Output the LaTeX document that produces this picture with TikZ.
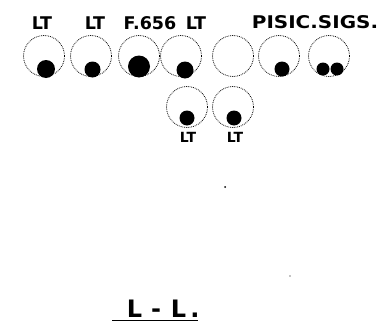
\documentclass[tikz,border=0pt]{standalone}
\usepackage{fontspec}
\setmainfont{DejaVu Sans}
\begin{document}
\begin{tikzpicture}[x=1pt,y=-1pt,
  lamp/.style={draw, densely dotted, line width=0.8pt, circle, minimum size=41pt, inner sep=0pt},
  bulb/.style={fill=black, circle, inner sep=0pt},
  lbl/.style={font=\bfseries\fontsize{17.5}{17.5}\selectfont, inner sep=0pt}]
\useasboundingbox (0,0) rectangle (383,324);
% top row lamps
\node[lamp] (c1) at (44,56) {};
\node[lamp] (c2) at (91,56) {};
\node[lamp] (c3) at (139,56) {};
\node[lamp] (c4) at (181,56) {};
\node[lamp] (c5) at (233,56) {};
\node[lamp] (c6) at (279,56) {};
\node[lamp] (c7) at (329,56) {};
% bottom row lamps
\node[lamp] (c8) at (187,107) {};
\node[lamp] (c9) at (233,107) {};
% filled bulbs
\node[bulb, minimum size=18pt] (b1) at (46,69) {};
\node[bulb, minimum size=16pt] (b2) at (92.5,69.5) {};
\node[bulb, minimum size=22pt] (b3) at (139,66.5) {};
\node[bulb, minimum size=17pt] (b4) at (185,70) {};
\node[bulb, minimum size=15pt] (b6) at (282,69) {};
\node[bulb, minimum size=13pt] (b7a) at (323,69) {};
\node[bulb, minimum size=13pt] (b7b) at (337,69) {};
\node[bulb, minimum size=15pt] (b8) at (187,118) {};
\node[bulb, minimum size=15pt] (b9) at (234,118) {};
% labels
\node[lbl] (t1) at (42,23) {LT};
\node[lbl] (t2) at (95,23) {LT};
\node[lbl] (t3) at (150,23) {F.656};
\node[lbl] (t4) at (196,23) {LT};
\node[lbl] (t5) at (315,22) {\scalebox{1.14}[1]{PISIC.SIGS.}};
\node[lbl, font=\bfseries\fontsize{14}{14}\selectfont] (t6) at (188,137) {LT};
\node[lbl, font=\bfseries\fontsize{14}{14}\selectfont] (t7) at (235,137) {LT};
% bottom title
\node[lbl, font=\bfseries\fontsize{24}{24}\selectfont, anchor=base] (tl1) at (134.5,317) {L};
\node[lbl, font=\bfseries\fontsize{24}{24}\selectfont, anchor=base] (tdash) at (156,317) {-};
\node[lbl, font=\bfseries\fontsize{24}{24}\selectfont, anchor=base] (tl2) at (178.5,317) {L};
\node[lbl, font=\bfseries\fontsize{24}{24}\selectfont, anchor=base] (tdot) at (195,317) {.};
\coordinate (u1) at (112,320);
\coordinate (u2) at (198,320);
\draw[line width=1pt] (u1) -- (u2);
% stray specks
\fill (225,187) circle (1pt);
\fill (290,276) circle (0.7pt);
\end{tikzpicture}
\end{document}
